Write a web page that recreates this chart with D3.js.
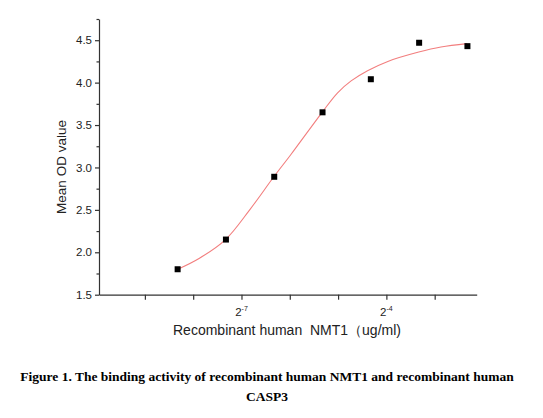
<!DOCTYPE html>
<html>
<head>
<meta charset="utf-8">
<script src="https://cdn.jsdelivr.net/npm/d3@7"></script>
<style>
  body { margin: 0; background: #fff; }
  svg { display: block; }
</style>
</head>
<body>
<script>
// concentration of NMT1 (ug/ml), 2-fold dilution series
var conc = [0.003125, 0.00625, 0.0125, 0.025, 0.05, 0.1, 0.2];
var meanOD = [1.80, 2.15, 2.89, 3.65, 4.04, 4.47, 4.43];

// fitted curve (x as log2 of concentration)
var fitLog2 = [-8.32, -7.87, -7.33, -6.83, -6.33, -5.98, -5.33, -5.01, -4.73, -4.39, -3.97, -3.33, -2.87, -2.33];
var fitOD = [1.80, 1.93, 2.15, 2.50, 2.89, 3.15, 3.65, 3.88, 4.02, 4.14, 4.25, 4.36, 4.42, 4.46];

var yMajor = [1.5, 2.0, 2.5, 3.0, 3.5, 4.0, 4.5];
var yMinor = [1.75, 2.25, 2.75, 3.25, 3.75, 4.25, 4.75];
var xTicks = [-9, -8, -7, -6, -5, -4, -3];
var xLabelled = [-7, -4];

var W = 543, H = 418;
var x = d3.scaleLinear().domain([-9.95, -2.13]).range([99, 476.7]);
var y = d3.scaleLinear().domain([1.5, 4.75]).range([294.7, 19]);

var svg = d3.select("body").append("svg")
    .attr("width", W)
    .attr("height", H)
    .style("font-family", "'Liberation Sans', Arial, sans-serif");

svg.append("rect").attr("width", W).attr("height", H).attr("fill", "#fff");

// y axis
var yAx = svg.append("g")
    .attr("transform", `translate(${x.range()[0]},0)`)
    .call(d3.axisLeft(y).tickValues(yMajor).tickSize(4).tickSizeOuter(0).tickPadding(3)
      .tickFormat(d3.format(".1f")));
svg.append("g")
    .attr("transform", `translate(${x.range()[0]},0)`)
    .call(d3.axisLeft(y).tickValues(yMinor).tickSize(2.5).tickSizeOuter(0).tickFormat(""))
    .select(".domain").remove();

// x axis
var xAx = svg.append("g")
    .attr("transform", `translate(0,${y.range()[0]})`)
    .call(d3.axisBottom(x).tickValues(xTicks).tickSize(5).tickSizeOuter(0).tickFormat(""));

svg.selectAll(".domain, .tick line").attr("stroke", "#333").attr("stroke-width", 1.2);
yAx.selectAll("text").attr("font-size", 11.5).attr("fill", "#222")
    .attr("font-family", "'Liberation Sans', Arial, sans-serif");

var xl = svg.append("g").selectAll("text").data(xLabelled).join("text")
    .attr("x", d => x(d))
    .attr("y", 316)
    .attr("text-anchor", "middle")
    .attr("font-size", 11.5)
    .attr("fill", "#222");
xl.append("tspan").text("2");
xl.append("tspan").attr("dy", -5).attr("font-size", 7).text(d => "-" + Math.abs(d));

// axis titles
svg.append("text")
    .attr("transform", "translate(66,167) rotate(-90)")
    .attr("text-anchor", "middle")
    .attr("font-size", 13.5)
    .attr("fill", "#222")
    .text("Mean OD value");

svg.append("text")
    .attr("x", 287)
    .attr("y", 335)
    .attr("text-anchor", "middle")
    .attr("font-size", 14)
    .attr("fill", "#222")
    .attr("xml:space", "preserve")
    .style("white-space", "pre")
    .text("Recombinant human  NMT1\uFF08ug/ml)");

// fitted curve
var fit = fitLog2.map((v, i) => [v, fitOD[i]]);
svg.append("path")
    .datum(fit)
    .attr("fill", "none")
    .attr("stroke", "#f27e7e")
    .attr("stroke-width", 1.1)
    .attr("d", d3.line().curve(d3.curveCatmullRom.alpha(0.5)).x(d => x(d[0])).y(d => y(d[1])));

// data points
var ms = 6;
svg.append("g").selectAll("rect").data(conc).join("rect")
    .attr("x", d => x(Math.log2(d)) - ms / 2)
    .attr("y", (d, i) => y(meanOD[i]) - ms / 2)
    .attr("width", ms)
    .attr("height", ms)
    .attr("fill", "#000");

// caption
var cap = svg.append("text")
    .attr("text-anchor", "middle")
    .attr("font-family", "'Liberation Serif', 'Times New Roman', serif")
    .attr("font-weight", "bold")
    .attr("font-size", 13.5)
    .attr("fill", "#000");
cap.append("tspan").attr("x", 267).attr("y", 381)
    .text("Figure 1. The binding activity of recombinant human NMT1 and recombinant human");
cap.append("tspan").attr("x", 267).attr("y", 401).text("CASP3");
</script>
</body>
</html>
